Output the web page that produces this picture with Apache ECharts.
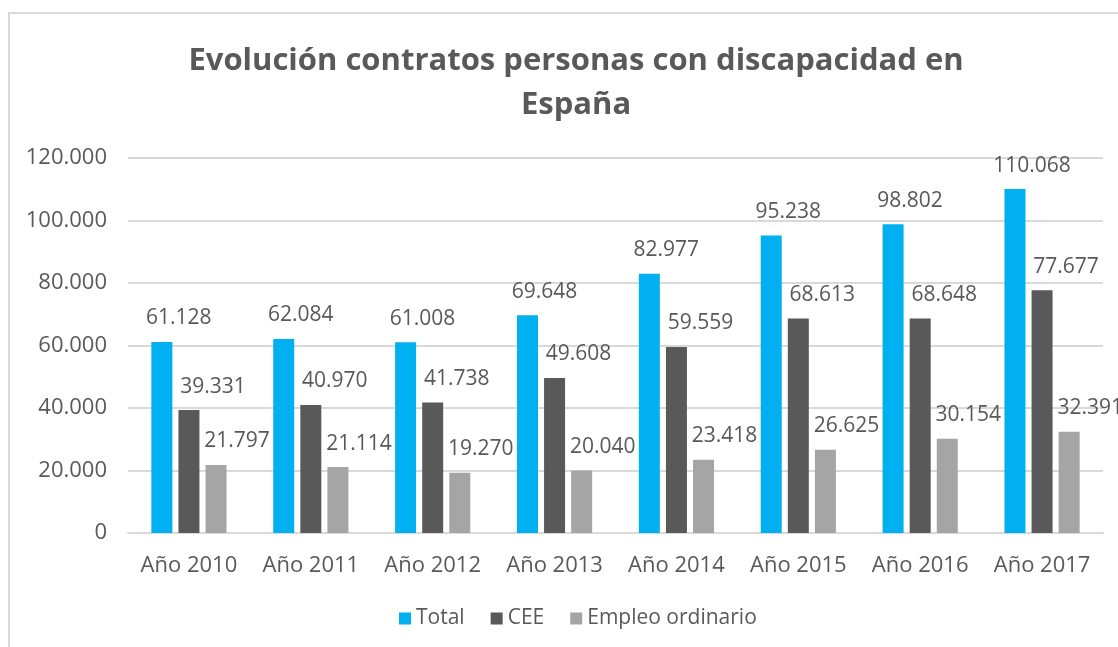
<!DOCTYPE html>
<html>
<head>
<meta charset="utf-8">
<script src="https://cdn.jsdelivr.net/npm/echarts@6/dist/echarts.min.js"></script>
<style>
  html, body { margin: 0; padding: 0; background: #fff; }
  #main { width: 1118px; height: 647px; }
</style>
</head>
<body>
<div id="main"></div>
<script>
var chartDom = document.getElementById('main');
var myChart = echarts.init(chartDom);
var option;

const categories = ['Año 2010', 'Año 2011', 'Año 2012', 'Año 2013', 'Año 2014', 'Año 2015', 'Año 2016', 'Año 2017'];
const totalData = [61128, 62084, 61008, 69648, 82977, 95238, 98802, 110068];
const ceeData = [39331, 40970, 41738, 49608, 59559, 68613, 68648, 77677];
const empleoData = [21797, 21114, 19270, 20040, 23418, 26625, 30154, 32391];

const textColor = '#595959';
const fontFamily = '"Open Sans", sans-serif';

// miles con punto, como en el original
function fmt(v) {
  return String(v).replace(/\B(?=(\d{3})+(?!\d))/g, '.');
}

function makeSeries(name, data, color, dx)
{
  return {
    name: name,
    type: 'bar',
    data: data,
    barWidth: 21,
    barGap: '29%',
    itemStyle: { color: color },
    label: {
      show: true,
      position: 'top',
      distance: 13,
      offset: [dx, 0],
      color: textColor,
      fontFamily: fontFamily,
      fontSize: 21,
      formatter: p => fmt(p.value)
    }
  };
}

option = {
  animation: false,
  backgroundColor: '#fff',
  graphic: [
    {
      type: 'rect',
      shape: { x: 9, y: 13, width: 1300, height: 800 },
      style: { fill: 'none', stroke: '#d9d9d9', lineWidth: 2 },
      silent: true
    }
  ],
  title: {
    text: 'Evolución contratos personas con discapacidad en\nEspaña',
    left: 571,
    top: 34,
    textAlign: 'center',
    textStyle: {
      color: textColor,
      fontFamily: fontFamily,
      fontWeight: 'bold',
      fontSize: 31,
      lineHeight: 44
    }
  },
  legend: {
    data: ['Total', 'CEE', 'Empleo ordinario'],
    top: 603,
    left: 394,
    icon: 'rect',
    itemWidth: 12,
    itemHeight: 12,
    itemGap: 26,
    textStyle: { color: textColor, fontFamily: fontFamily, fontSize: 21 }
  },
  grid: {
    left: 128,
    right: 15,
    top: 158,
    bottom: 114
  },
  xAxis: {
    type: 'category',
    data: categories,
    axisLine: { lineStyle: { color: '#d9d9d9', width: 2 } },
    axisTick: { show: false },
    axisLabel: { interval: 0, color: textColor, fontFamily: fontFamily, fontSize: 22, margin: 22 }
  },
  yAxis: {
    type: 'value',
    min: 0,
    max: 120000,
    interval: 20000,
    axisLine: { show: false },
    axisTick: { show: false },
    splitLine: { lineStyle: { color: '#d9d9d9', width: 2 } },
    axisLabel: { color: textColor, fontFamily: fontFamily, fontSize: 22, margin: 21, formatter: v => fmt(v) }
  },
  series: [
    makeSeries('Total', totalData, '#00b0f0', 17),
    makeSeries('CEE', ceeData, '#595959', 24),
    makeSeries('Empleo ordinario', empleoData, '#a5a5a5', 21)
  ]
};

option && myChart.setOption(option);
</script>
</body>
</html>
